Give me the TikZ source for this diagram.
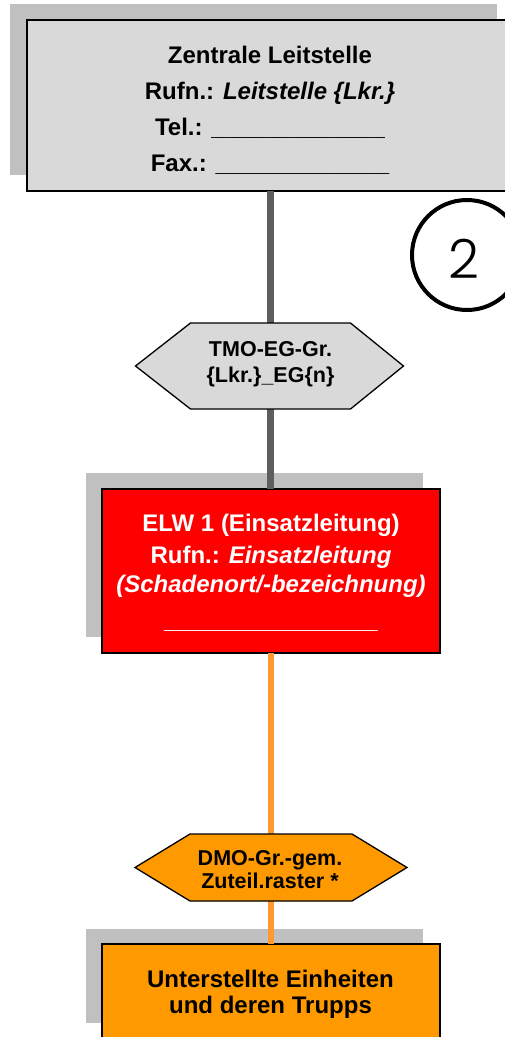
\documentclass[tikz,border=0pt]{standalone}
\usepackage{fontspec}
\setmainfont{Liberation Sans}
\newfontfamily\circfont{Poppins}[UprightFont={* Light}]
\definecolor{shadowc}{HTML}{C0C0C0}
\definecolor{lgray}{HTML}{D9D9D9}
\definecolor{boxred}{HTML}{FF0000}
\definecolor{boxorange}{HTML}{FF9900}
\definecolor{glinec}{HTML}{5E5E5E}
\definecolor{olinec}{HTML}{FF9933}
\begin{document}
\begin{tikzpicture}[x=1pt,y=-1pt,
  box/.style={draw=black, line width=2pt, inner sep=0pt, outer sep=0pt, anchor=north west},
  hexbase/.style={draw=none, inner sep=0pt, outer sep=0pt, anchor=north west},
  hexline/.style={draw=black, line width=1.3pt, line join=miter},
  gline/.style={draw=glinec, line width=6.5pt},
  oline/.style={draw=olinec, line width=6pt},
  bigtxt/.style={anchor=base, inner sep=0pt, font=\bfseries\fontsize{24pt}{24pt}\selectfont},
  hextxt/.style={anchor=base, inner sep=0pt, font=\bfseries\fontsize{21.5pt}{21.5pt}\selectfont}]
\useasboundingbox (0,0) rectangle (505,1037);
\clip (0,0) rectangle (505,1037);
% shadows
\fill[shadowc] (10,4) rectangle (497,175);
\fill[shadowc] (86,473) rectangle (423,637);
\fill[shadowc] (86,929) rectangle (423,1023);
% boxes
\node[box, fill=lgray, minimum width=487pt, minimum height=171pt] (zl) at (27,20) {};
\node[box, fill=boxred, minimum width=338pt, minimum height=164pt] (elw) at (102,489) {};
\node[box, fill=boxorange, minimum width=338pt, minimum height=120pt] (ue) at (102,944) {};
% hexagon bases
\node[hexbase, minimum width=160pt, minimum height=86pt] (tmo) at (190.5,323) {};
\node[hexbase, minimum width=162pt, minimum height=67pt] (dmo) at (190,834) {};
% connectors
\draw[gline] (zl.south) -- (zl.south |- tmo.north);
\draw[gline] (tmo.south) -- (tmo.south |- elw.north);
\draw[oline] (elw.south) -- (elw.south |- dmo.north);
\draw[oline] (dmo.south) -- (dmo.south |- ue.north);
% hexagons
\draw[hexline, fill=lgray] (tmo.north west) -- (tmo.north east) -- ([xshift=53pt]tmo.east) -- (tmo.south east) -- (tmo.south west) -- ([xshift=-55pt]tmo.west) -- cycle;
\draw[hexline, fill=boxorange] (dmo.north west) -- (dmo.north east) -- ([xshift=55pt]dmo.east) -- (dmo.south east) -- (dmo.south west) -- ([xshift=-55pt]dmo.west) -- cycle;
% circle
\node[draw=black, circle, line width=4pt, minimum size=110pt, inner sep=0pt] (num) at (467,255) {};
\node[anchor=base, inner sep=0pt, font=\circfont\fontsize{54pt}{54pt}\selectfont] (numt) at (464,278) {2};
% texts top box
\node[bigtxt] (zl1) at (270,63) {Zentrale Leitstelle};
\node[bigtxt] (zl2) at (270,99) {Rufn.: \textit{Leitstelle \{Lkr.\}}};
\node[bigtxt] (zl3) at (270,135) {Tel.: \_\_\_\_\_\_\_\_\_\_\_\_\_};
\node[bigtxt] (zl4) at (270,171) {Fax.: \_\_\_\_\_\_\_\_\_\_\_\_\_};
% TMO
\node[hextxt] (tmo1) at (270.5,356) {TMO-EG-Gr.};
\node[hextxt] (tmo2) at (270.5,382) {\{Lkr.\}\_EG\{n\}};
% ELW
\node[bigtxt, text=white] (elw1) at (271,531) {ELW 1 (Einsatzleitung)};
\node[bigtxt, text=white] (elw2) at (271,563) {Rufn.: \textit{Einsatzleitung}};
\node[bigtxt, text=white] (elw3) at (271,592) {\textit{(Schadenort/-bezeichnung)}};
\node[bigtxt, text=white] (elw4) at (271,628.5) {\_\_\_\_\_\_\_\_\_\_\_\_\_\_\_\_};
% DMO
\node[hextxt] (dmo1) at (270,865) {DMO-Gr.-gem.};
\node[hextxt] (dmo2) at (270,888) {Zuteil.raster *};
% bottom box
\node[bigtxt] (ue1) at (270.5,987) {Unterstellte Einheiten};
\node[bigtxt] (ue2) at (270.5,1013) {und deren Trupps};
\end{tikzpicture}
\end{document}
